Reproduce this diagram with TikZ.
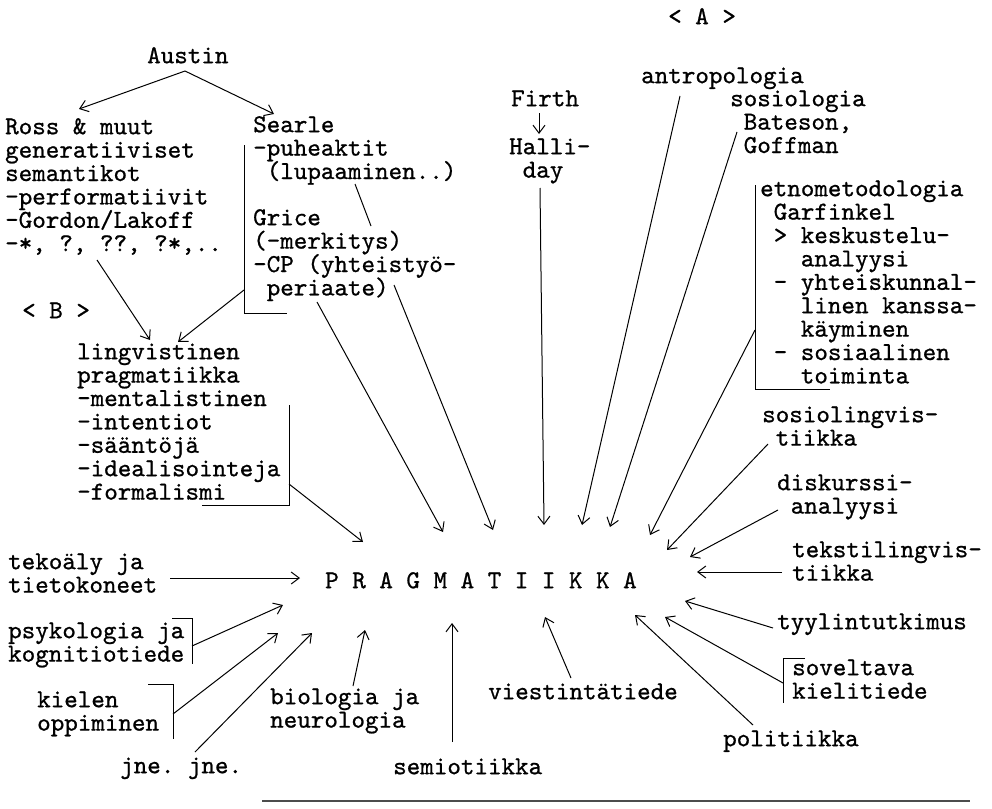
\documentclass[tikz,border=0pt]{standalone}
\usepackage{fontspec}
\setmonofont{lmmono10-regular.otf}[FakeBold=0.8]
\usetikzlibrary{arrows.meta}
\newcommand\lbfont{\ttfamily\fontsize{25.8}{23.4}\selectfont\lineskiplimit=-100pt\lineskip=0pt}
\newcommand\st{\rule{0pt}{19pt}}
\newcommand\ind[1]{\hspace*{#1\dimexpr0.525em\relax}}
\begin{document}
\begin{tikzpicture}[x=1pt,y=-1pt,
  lbl/.style={font=\lbfont, align=left, anchor=north west, inner sep=0pt, yshift=19pt},
  arr/.style={-{Straight Barb[length=8pt,width=12pt]}, line width=1pt},
  ln/.style={line width=1pt}]
\useasboundingbox (0,0) rectangle (992,808);
\fill[white] (0,0) rectangle (992,808);
% text nodes
\node[lbl] (austin) at (147,63) {\st Austin};
\node[lbl] (ross) at (5,134) {\st Ross \& muut\\generatiiviset\\semantikot\\-performatiivit\\-Gordon/Lakoff\\-*, ?, ??, ?*,..};
\node[lbl] (B) at (22,318) {\st< B >};
\node[lbl] (searle) at (253,132) {\st Searle\\-puheaktit\\\ind{1}(lupaaminen..)};
\node[lbl] (grice) at (253,225) {\st Grice\\(-merkitys)\\-CP (yhteistyö-\\\ind{1}periaate)};
\node[lbl] (ling) at (77,359) {\st lingvistinen\\pragmatiikka\\-mentalistinen\\-intentiot\\-sääntöjä\\-idealisointeja\\-formalismi};
\node[lbl] (firth) at (511,106) {\st Firth};
\node[lbl] (halli) at (509,154) {\st Halli-\\\ind{1}day};
\node[lbl] (A) at (668,24) {\st< A >};
\node[lbl] (antro) at (641,83) {\st antropologia};
\node[lbl] (sosio) at (730,106) {\st sosiologia\\\ind{1}Bateson,\\\ind{1}Goffman};
\node[lbl] (etno) at (760,196) {\st etnometodologia\\\ind{1}Garfinkel\\\ind{1}>\ind{1}keskustelu-\\\ind{3}analyysi\\\ind{1}-\ind{1}yhteiskunnal-\\\ind{3}linen kanssa-\\\ind{3}käyminen\\\ind{1}-\ind{1}sosiaalinen\\\ind{3}toiminta};
\node[lbl] (sling) at (762,422) {\st sosiolingvis-\\\ind{1}tiikka};
\node[lbl] (disk) at (777,490) {\st diskurssi-\\\ind{1}analyysi};
\node[lbl] (teksti) at (792,557) {\st tekstilingvis-\\tiikka};
\node[lbl] (tyyli) at (777,629) {\st tyylintutkimus};
\node[lbl] (sovel) at (792,675) {\st soveltava\\kielitiede};
\node[lbl] (poli) at (723,746) {\st politiikka};
\node[lbl] (viest) at (488,699) {\st viestintätiede};
\node[lbl] (semio) at (393,774) {\st semiotiikka};
\node[lbl] (bio) at (270,704) {\st biologia ja\\neurologia};
\node[lbl] (jne) at (120,773) {\st jne. jne.};
\node[lbl] (kiel) at (37,707) {\st kielen\\oppiminen};
\node[lbl] (psyk) at (8,638) {\st psykologia ja\\kognitiotiede};
\node[lbl] (teko) at (8,569) {\st tekoäly ja\\tietokoneet};
\node[lbl] (prag) at (325,588) {\st P R A G M A T I I K K A};
% coordinates
\coordinate (ap) at (185,71);
\coordinate (tRoss) at (79,109);
\coordinate (tSearle) at (274,114);
\coordinate (sRoss) at (97,260);
\coordinate (tL1) at (150,340);
\coordinate (sSearleBr) at (244,290);
\coordinate (tL2) at (178,342);
\coordinate (sLupa) at (355,184);
\coordinate (mLupa1) at (371,226);
\coordinate (mLupa2) at (394,285);
\coordinate (tLupa) at (493,530);
\coordinate (sGrice) at (317,302);
\coordinate (tGrice) at (443,532);
\coordinate (sLing) at (289,484);
\coordinate (tLing) at (363,542);
\coordinate (sFirth) at (539,113);
\coordinate (tFirth) at (539,134);
\coordinate (sHalli) at (540,188);
\coordinate (tHalli) at (544,525);
\coordinate (sAntro) at (680,96);
\coordinate (tAntro) at (582,525);
\coordinate (sSosio) at (737,132);
\coordinate (tSosio) at (610,527);
\coordinate (sEtno) at (755,330);
\coordinate (tEtno) at (650,535);
\coordinate (sSling) at (768,444);
\coordinate (tSling) at (667,550);
\coordinate (sDisk) at (778,510);
\coordinate (tDisk) at (690,557);
\coordinate (sTeksti) at (782,572);
\coordinate (tTeksti) at (697,572);
\coordinate (sTyyli) at (773,628);
\coordinate (tTyyli) at (685,601);
\coordinate (sSovel) at (783,683);
\coordinate (tSovel) at (665,617);
\coordinate (sPoli) at (753,725);
\coordinate (tPoli) at (635,615);
\coordinate (sViest) at (571,678);
\coordinate (tViest) at (545,617);
\coordinate (sSemio) at (452,742);
\coordinate (tSemio) at (452,623);
\coordinate (sBio) at (353,686);
\coordinate (tBio) at (365,630);
\coordinate (sJne) at (195,752);
\coordinate (tJne) at (312,633);
\coordinate (sKiel) at (173,714);
\coordinate (tKiel) at (278,633);
\coordinate (sPsyk) at (192,646);
\coordinate (tPsyk) at (283,605);
\coordinate (sTeko) at (170,578);
\coordinate (tTeko) at (300,578);
% brackets
\draw[ln] (244,145) -- (244,313) -- (287,313);
\draw[ln] (289,405) -- (289,505) -- (202,505);
\draw[ln] (755,185) -- (755,389) -- (830,389);
\draw[ln] (805,658) -- (783,658) -- (783,703);
\draw[ln] (148,684) -- (173,684) -- (173,739);
\draw[ln] (172,618) -- (192,618) -- (192,664);
% connectors
\draw[arr] (ap) -- (tRoss);
\draw[arr] (ap) -- (tSearle);
\draw[arr] (sRoss) -- (tL1);
\draw[arr] (sSearleBr) -- (tL2);
\draw[ln] (sLupa) -- (mLupa1);
\draw[arr] (mLupa2) -- (tLupa);
\draw[arr] (sGrice) -- (tGrice);
\draw[arr] (sLing) -- (tLing);
\draw[arr] (sFirth) -- (tFirth);
\draw[arr] (sHalli) -- (tHalli);
\draw[arr] (sAntro) -- (tAntro);
\draw[arr] (sSosio) -- (tSosio);
\draw[arr] (sEtno) -- (tEtno);
\draw[arr] (sSling) -- (tSling);
\draw[arr] (sDisk) -- (tDisk);
\draw[arr] (sTeksti) -- (tTeksti);
\draw[arr] (sTyyli) -- (tTyyli);
\draw[arr] (sSovel) -- (tSovel);
\draw[arr] (sPoli) -- (tPoli);
\draw[arr] (sViest) -- (tViest);
\draw[arr] (sSemio) -- (tSemio);
\draw[arr] (sBio) -- (tBio);
\draw[arr] (sJne) -- (tJne);
\draw[arr] (sKiel) -- (tKiel);
\draw[arr] (sPsyk) -- (tPsyk);
\draw[arr] (sTeko) -- (tTeko);
\draw[line width=2pt, black!70] (262,801) -- (970,801);
\end{tikzpicture}
\end{document}
